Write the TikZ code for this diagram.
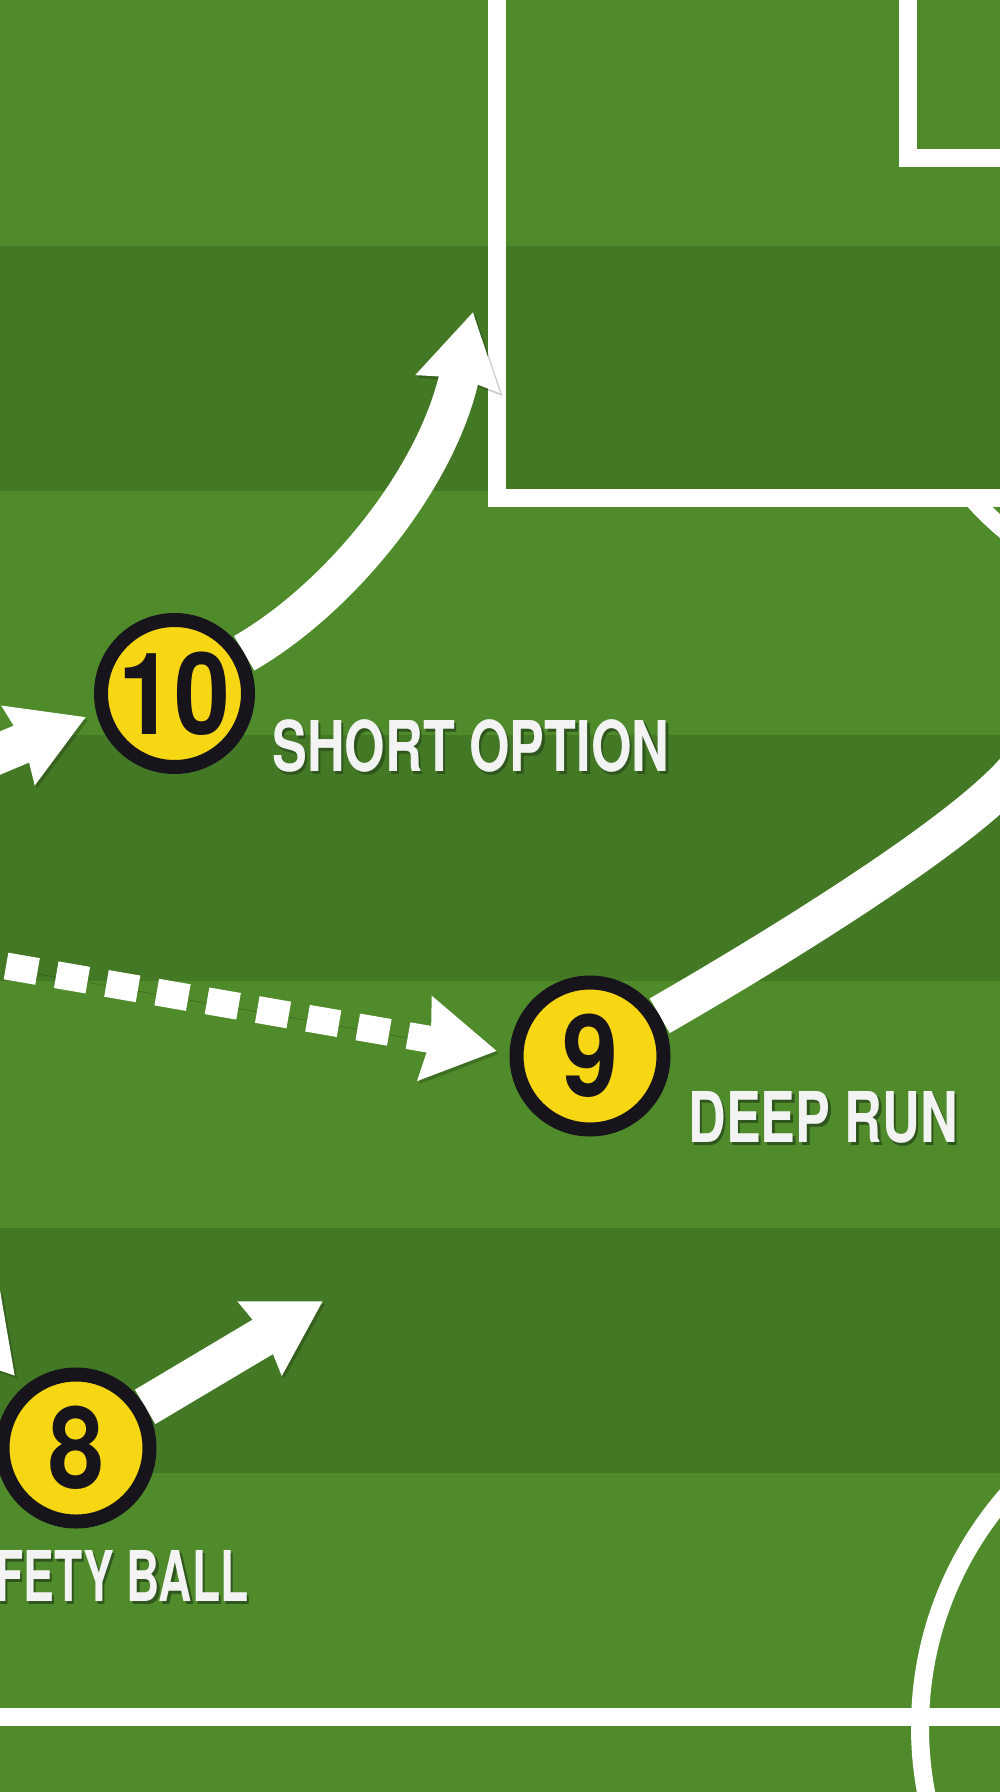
\documentclass[tikz,border=0pt]{standalone}
\usepackage{fontspec}
\usetikzlibrary{arrows.meta}
\newfontfamily\lblfont{texgyreheros-bold}[Extension=.otf, FakeStretch=0.745]
\newfontfamily\lblnarrow{texgyreheros-bold}[Extension=.otf, FakeStretch=0.66]
\newfontfamily\numfont{texgyreheros-bold}[Extension=.otf, FakeStretch=0.88]
\definecolor{grassL}{HTML}{4F8B2B}
\definecolor{grassD}{HTML}{437825}
\definecolor{disc}{HTML}{F7D614}
\definecolor{ink}{HTML}{17141C}
\definecolor{shadowgreen}{HTML}{2F561C}
\definecolor{labelwhite}{HTML}{F3F3F3}
\pgfdeclarelayer{bg}
\pgfsetlayers{bg,main}
\newcommand\shadowtext[1]{\rlap{\kern1.2pt\raisebox{-1.6pt}{\color{shadowgreen}#1}}#1}
\tikzset{
  pitchline/.style={draw=white, line width=9pt},
  player/.style={circle, fill=disc, draw=ink, line width=7pt, minimum size=73.5pt,
    inner sep=0pt, text=ink, font={\numfont\fontsize{57}{57}\selectfont}},
  runlabel/.style={anchor=base west, inner sep=0pt, text=labelwhite,
    font={\lblfont\fontsize{35}{35}\selectfont}},
  headtip/.tip={Stealth[length=36pt,width=41pt,inset=2.5pt]},
  shadowed/.style={preaction={draw=black, opacity=0.2,
    transform canvas={xshift=1.2pt,yshift=-1.4pt}}},
  runline/.style={draw=white, line width=20pt, shadowed},
  runarrow/.style={runline, -headtip},
  passarrow/.style={draw=white, line width=13.5pt, dash pattern=on 16pt off 9.5pt,
    shadowed, -headtip}
}
\begin{document}
\begin{tikzpicture}[x=0.5pt,y=-0.5pt]
\useasboundingbox (0,0) rectangle (1000,1792);

% players
\node[player] (n10) at (174.5,693.5) {10};
\node[player] (n9) at (590,1056) {9};
\node[player] (n8) at (76,1448) {8};

% labels
\node[runlabel] (lshort) at (272,771) {\shadowtext{SHORT OPTION}};
\node[runlabel] (ldeep) at (688,1142) {\shadowtext{DEEP RUN}};
\node[runlabel, anchor=base east, font={\lblnarrow\fontsize{35}{35}\selectfont}]
  (lsafe) at (249,1601) {\shadowtext{SAFETY BALL}};

% free ends of connectors
\coordinate (s10) at (-100,795);
\coordinate (t10in) at (86,717);
\coordinate (t10out) at (473,312);
\coordinate (s9) at (6,966);
\coordinate (t9in) at (497,1051);
\coordinate (e9) at (1015,772);
\coordinate (s8) at (-150,1182);
\coordinate (t8in) at (15,1376);
\coordinate (t8out) at (323,1301);

\begin{pgfonlayer}{bg}
  % grass stripes
  \fill[grassL] (-10,-10) rectangle (1010,1802);
  \fill[grassD] (-10,246) rectangle (1010,491);
  \fill[grassD] (-10,735) rectangle (1010,981);
  \fill[grassD] (-10,1228) rectangle (1010,1473);

  % pitch markings
  \draw[pitchline] (497,-20) -- (497,498) -- (1030,498);
  \draw[pitchline] (908,-20) -- (908,158) -- (1030,158);
  \begin{scope}
    \clip (900,498) rectangle (1010,700);
    \draw[pitchline] (1185,312) circle[radius=283];
  \end{scope}
  \draw[pitchline] (-20,1716.5) -- (1030,1716.5);
  \draw[pitchline] (1273,1727) circle[radius=353];

  % runs and passes
  \draw[runarrow] (s10) -- (t10in);
  \draw[runarrow] (n10.30) .. controls (339.5,598.3) and (437.6,478.3) .. (t10out);
  \draw[passarrow] (s9) -- (t9in);
  \draw[runline] (n9.30) .. controls (760,958) and (955,840) .. (e9);
  \draw[runarrow] (s8) -- (t8in);
  \draw[runarrow] (n8) -- (t8out);
\end{pgfonlayer}
\end{tikzpicture}
\end{document}
